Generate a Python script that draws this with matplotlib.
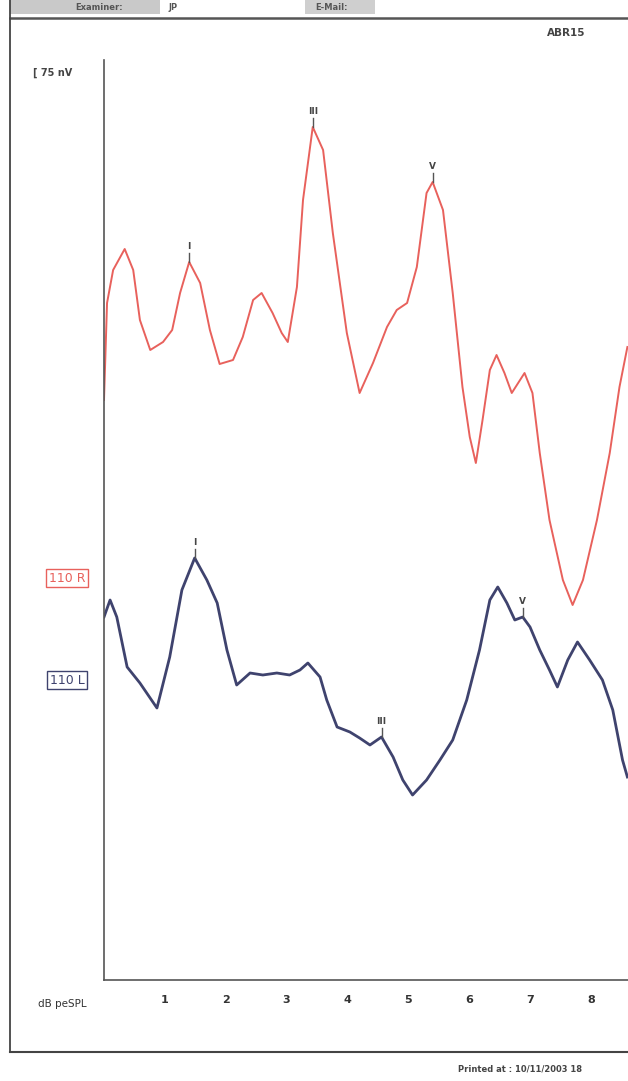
import numpy as np
import matplotlib
matplotlib.use('Agg')
import matplotlib.pyplot as plt
from matplotlib.lines import Line2D
from matplotlib.patches import Rectangle

# ABR traces, time in ms, amplitude relative to each channel's baseline (plot units)
red_t = [0.00, 0.05, 0.15, 0.34, 0.48, 0.59, 0.76, 0.97, 1.12, 1.25, 1.40, 1.58, 1.74, 1.90,
         2.12, 2.28, 2.45, 2.59, 2.77, 2.92, 3.02, 3.17, 3.27, 3.43, 3.60, 3.76, 3.99, 4.20,
         4.42, 4.65, 4.81, 4.98, 5.14, 5.30, 5.40, 5.57, 5.73, 5.89, 6.01, 6.11, 6.22, 6.34,
         6.45, 6.58, 6.70, 6.91, 7.04, 7.16, 7.32, 7.54, 7.70, 7.87, 8.10, 8.31, 8.47, 8.60]
red_amp = [178, 275, 308, 329, 308, 258, 228, 236, 248, 285, 316, 295, 248, 214,
           218, 241, 278, 285, 265, 245, 236, 291, 378, 451, 428, 345, 245, 185,
           215, 251, 268, 275, 311, 385, 396, 368, 285, 191, 141, 115, 158, 208,
           223, 205, 185, 205, 185, 125, 58, -2, -27, -2, 58, 125, 191, 231]

blue_t = [0.00, 0.10, 0.21, 0.38, 0.59, 0.87, 1.08, 1.28, 1.49, 1.69, 1.86, 2.02, 2.18, 2.40,
          2.61, 2.84, 3.05, 3.22, 3.35, 3.55, 3.66, 3.83, 4.04, 4.20, 4.37, 4.56, 4.75, 4.91,
          5.07, 5.30, 5.52, 5.73, 5.96, 6.17, 6.34, 6.47, 6.62, 6.75, 6.88, 7.00, 7.16, 7.32,
          7.45, 7.62, 7.78, 7.98, 8.19, 8.36, 8.52, 8.60]
blue_amp = [63, 80, 63, 13, -3, -28, 23, 90, 122, 100, 77, 30, -5, 7,
            5, 7, 5, 10, 17, 3, -20, -47, -52, -58, -65, -57, -77, -100,
            -115, -100, -80, -60, -20, 30, 80, 93, 77, 60, 63, 53, 30, 10,
            -7, 20, 38, 20, 0, -30, -80, -97]

red_peaks = {'I': 1.40, 'III': 3.43, 'V': 5.40}
blue_peaks = {'I': 1.49, 'III': 4.56, 'V': 6.88}
xticks = [1, 2, 3, 4, 5, 6, 7, 8]

red_c = '#e8615c'
blue_c = '#3f436e'
red_base = 402
blue_base = 300

W, H = 628, 1081
fig = plt.figure(figsize=(W / 100, H / 100), dpi=100)
fig.patch.set_facecolor('white')

def fx(px):
    return px / W

def fy(py):
    return 1 - py / H

ax = fig.add_axes([fx(104), fy(980), fx(628) - fx(104), fy(18) - fy(980)])
ax.set_xlim(0, 8.61)
ax.set_ylim(0, 962)
ax.set_facecolor('none')
for s in ['top', 'right']:
    ax.spines[s].set_visible(False)
ax.spines['left'].set_bounds(0, 920)
ax.spines['left'].set_color('#555555')
ax.spines['bottom'].set_color('#555555')
ax.spines['left'].set_linewidth(1.2)
ax.spines['bottom'].set_linewidth(1.2)
ax.set_yticks([])
ax.set_xticks(xticks)
ax.set_xticklabels([str(t) for t in xticks], fontsize=8, color='#333333',
                   fontweight='bold')
ax.tick_params(axis='x', length=0, pad=11)

ry = np.array(red_amp) + red_base
by = np.array(blue_amp) + blue_base
ax.plot(red_t, ry, color=red_c, lw=1.4, solid_joinstyle='round')
ax.plot(blue_t, by, color=blue_c, lw=2.0, solid_joinstyle='round')

def mark(t, xs, ys, name):
    y = np.interp(t, xs, ys)
    ax.plot([t, t], [y, y + 9], color='#555555', lw=1.0)
    ax.text(t, y + 11, name, ha='center', va='bottom', fontsize=6.5,
            fontweight='bold', color='#444444')

for k, v in red_peaks.items():
    mark(v, red_t, ry, k)
for k, v in blue_peaks.items():
    mark(v, blue_t, by, k)

# channel labels
fig.text(fx(67), fy(578), '110 R', ha='center', va='center', fontsize=9,
         color=red_c, bbox=dict(boxstyle='square,pad=0.2', fc='white', ec=red_c, lw=1))
fig.text(fx(67), fy(680), '110 L', ha='center', va='center', fontsize=9,
         color=blue_c, bbox=dict(boxstyle='square,pad=0.2', fc='white', ec=blue_c, lw=1))

fig.text(fx(33), fy(73), '[ 75 nV', ha='left', va='center', fontsize=7,
         fontweight='bold', color='#444444')
fig.text(fx(566), fy(33), 'ABR15', ha='center', va='center', fontsize=7.5,
         fontweight='bold', color='#444444')
fig.text(fx(38), fy(1004), 'dB peSPL', ha='left', va='center', fontsize=7.5,
         color='#333333')
fig.text(fx(458), fy(1069), 'Printed at : 10/11/2003 18', ha='left', va='center',
         fontsize=6, fontweight='bold', color='#444444')

# header strip and outer frame
fig.add_artist(Rectangle((fx(10), fy(14)), fx(150), fy(0) - fy(14), transform=fig.transFigure,
                         fc='#c9c9c9', ec='none'))
fig.add_artist(Rectangle((fx(305), fy(14)), fx(70), fy(0) - fy(14), transform=fig.transFigure,
                         fc='#cfcfcf', ec='none'))
fig.text(fx(75), fy(7), 'Examiner:', ha='left', va='center', fontsize=6,
         fontweight='bold', color='#555555')
fig.text(fx(168), fy(7), 'JP', ha='left', va='center', fontsize=6,
         fontweight='bold', color='#555555')
fig.text(fx(315), fy(7), 'E-Mail:', ha='left', va='center', fontsize=6,
         fontweight='bold', color='#555555')
fig.add_artist(Line2D([fx(10), 1], [fy(18), fy(18)], transform=fig.transFigure,
                      color='#555555', lw=1.8))
fig.add_artist(Line2D([fx(10), fx(10)], [fy(0), fy(1052)], transform=fig.transFigure,
                      color='#444444', lw=1.3))
fig.add_artist(Line2D([fx(10), 1], [fy(1052), fy(1052)], transform=fig.transFigure,
                      color='#444444', lw=1.5))

fig.savefig('out.png', dpi=100)
